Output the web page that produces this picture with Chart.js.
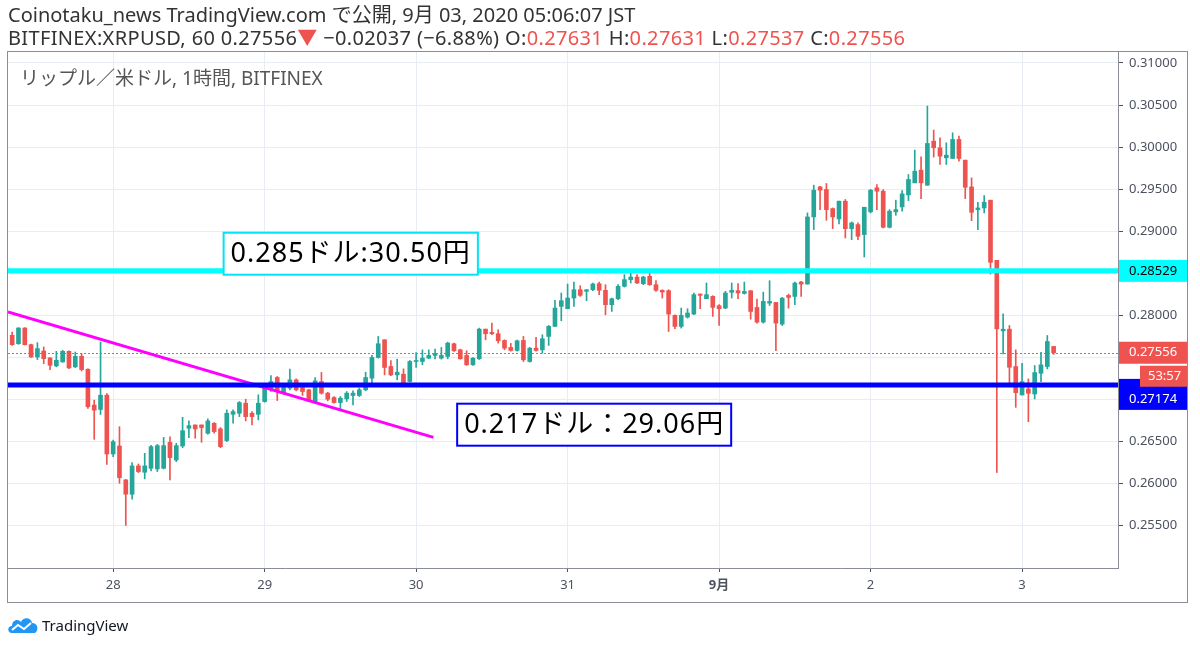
<!DOCTYPE html>
<html>
<head>
<meta charset="utf-8">
<script src="https://cdn.jsdelivr.net/npm/chart.js@4.4.1/dist/chart.umd.min.js"></script>
<style>
  html, body { margin: 0; padding: 0; background: #fff; }
  body { width: 1200px; height: 647px; position: relative; overflow: hidden;
         font-family: "Noto Sans", "Noto Sans CJK JP", sans-serif; color: #333; }
  #wrap { position: absolute; left: 0; top: 0; width: 1200px; height: 647px; }
  .hdr { position: absolute; left: 8px; font-size: 20px; white-space: nowrap; line-height: 23px; }
  .red { color: #ef5350; }
  #sym { position: absolute; left: 20px; top: 63px; font-size: 19px; color: #555; white-space: nowrap; }
  #logo { position: absolute; left: 7px; top: 614px; height: 22px; display: flex; align-items: center; }
  #logo span { font-size: 15px; color: #131722; margin-left: 3px; }
</style>
</head>
<body>
<div id="wrap"><canvas id="myChart" width="1200" height="647"></canvas></div>
<div class="hdr" style="top:3px">Coinotaku_news TradingView.com で公開, 9月 03, 2020 05:06:07 JST</div>
<div class="hdr" style="top:26px; letter-spacing:0.35px">BITFINEX:XRPUSD, 60 0.27556<span class="red">▼</span> −0.02037 (−6.88%) O:<span class="red">0.27631</span> H:<span class="red">0.27631</span> L:<span class="red">0.27537</span> C:<span class="red">0.27556</span></div>
<div id="sym">リップル／米ドル, 1時間, BITFINEX</div>
<div id="logo">
  <svg width="32" height="18" viewBox="0 0 32 18">
    <path d="M5 17 C0 17 0 10 5 10 C5 4 11 2 14 6 C16 1 24 1 25 7 C31 7 32 14 28 17 Z" fill="#2196f3"/>
    <path d="M5 14 L11 9 L17 13 L24 7" stroke="#fff" stroke-width="2" fill="none"/>
  </svg>
  <span>TradingView</span>
</div>
<script>
// XRPUSD 1h candles, first bar = Aug 27 08:00 JST
const opens = [
  0.27763,0.27664,0.27850,0.27652,0.27506,0.27577,0.27494,0.27400,0.27447,0.27573,
  0.27388,0.27514,0.27360,0.26934,0.26882,0.27052,0.26353,0.26448,0.26045,0.25875,
  0.26211,0.26136,0.26183,0.26175,0.26183,0.26491,0.26281,0.26448,0.26659,0.26698,
  0.26698,0.26599,0.26718,0.26651,0.26512,0.26825,0.26837,0.26956,0.26837,0.26825,
  0.26976,0.27115,0.27262,0.27076,0.27135,0.27234,0.27143,0.27115,0.26976,0.27214,
  0.27076,0.27024,0.26964,0.27008,0.27048,0.27048,0.27115,0.27254,0.27500,0.27710,
  0.27393,0.27293,0.27301,0.27214,0.27452,0.27452,0.27492,0.27524,0.27492,0.27512,
  0.27663,0.27591,0.27524,0.27413,0.27484,0.27837,0.27798,0.27782,0.27702,0.27619,
  0.27583,0.27702,0.27452,0.27611,0.27591,0.27750,0.27869,0.28107,0.28079,0.28206,
  0.28305,0.28286,0.28305,0.28377,0.28298,0.28127,0.28198,0.28345,0.28425,0.28456,
  0.28377,0.28464,0.28365,0.28298,0.28294,0.28000,0.27869,0.27980,0.28016,0.28254,
  0.28198,0.28226,0.28115,0.28087,0.28274,0.28294,0.28261,0.28293,0.28094,0.27920,
  0.28146,0.28154,0.27896,0.28237,0.28225,0.28396,0.28372,0.29170,0.29527,0.29496,
  0.29269,0.29146,0.29357,0.29031,0.29079,0.28960,0.29230,0.29516,0.29476,0.29047,
  0.29230,0.29289,0.29432,0.29575,0.29726,0.29547,0.30071,0.29992,0.29873,0.29865,
  0.30091,0.29845,0.29527,0.29257,0.29277,0.29369,0.28654,0.27816,0.27836,0.27392,
  0.27054,0.27126,0.27066,0.27312,0.27392,0.27631
];
const highs = [
  0.27803,0.27854,0.27854,0.27660,0.27676,0.27625,0.27500,0.27573,0.27585,0.27580,
  0.27565,0.27546,0.27365,0.26993,0.27684,0.27070,0.26519,0.26677,0.26050,0.26250,
  0.26234,0.26361,0.26456,0.26467,0.26550,0.26558,0.26480,0.26789,0.26746,0.26698,
  0.26698,0.26770,0.26726,0.26667,0.26877,0.26877,0.26976,0.27004,0.26857,0.27056,
  0.27175,0.27286,0.27274,0.27175,0.27361,0.27246,0.27155,0.27123,0.27262,0.27322,
  0.27087,0.27036,0.27036,0.27095,0.27103,0.27135,0.27325,0.27524,0.27750,0.27710,
  0.27464,0.27480,0.27365,0.27464,0.27559,0.27590,0.27590,0.27599,0.27619,0.27682,
  0.27671,0.27599,0.27580,0.27500,0.27849,0.27837,0.27910,0.27829,0.27710,0.27667,
  0.27706,0.27750,0.27619,0.27738,0.27770,0.27881,0.28179,0.28266,0.28373,0.28397,
  0.28353,0.28305,0.28385,0.28397,0.28365,0.28206,0.28365,0.28484,0.28504,0.28484,
  0.28464,0.28516,0.28413,0.28305,0.28305,0.28008,0.28087,0.28079,0.28266,0.28254,
  0.28385,0.28234,0.28127,0.28286,0.28385,0.28377,0.28396,0.28293,0.28194,0.28277,
  0.28412,0.28154,0.28213,0.28253,0.28396,0.28404,0.29218,0.29547,0.29535,0.29567,
  0.29277,0.29357,0.29377,0.29111,0.29099,0.29285,0.29496,0.29555,0.29496,0.29257,
  0.29369,0.29483,0.29674,0.29964,0.29885,0.30488,0.30202,0.30111,0.30051,0.30170,
  0.30131,0.29845,0.29634,0.29345,0.29424,0.29369,0.28654,0.28019,0.27880,0.27590,
  0.27431,0.27245,0.27404,0.27562,0.27761,0.27631
];
const lows = [
  0.27644,0.27656,0.27648,0.27500,0.27475,0.27427,0.27356,0.27388,0.27443,0.27368,
  0.27380,0.27340,0.26894,0.26527,0.26823,0.26230,0.26321,0.26005,0.25504,0.25816,
  0.26132,0.26057,0.26152,0.26144,0.26175,0.26045,0.26262,0.26428,0.26547,0.26540,
  0.26492,0.26587,0.26599,0.26428,0.26500,0.26718,0.26797,0.26746,0.26698,0.26758,
  0.26968,0.27095,0.26988,0.27064,0.27115,0.27103,0.27048,0.26976,0.26964,0.27064,
  0.26984,0.26956,0.26889,0.26976,0.26936,0.27036,0.27103,0.27194,0.27492,0.27293,
  0.27285,0.27234,0.27182,0.27206,0.27381,0.27413,0.27484,0.27484,0.27480,0.27484,
  0.27571,0.27480,0.27405,0.27405,0.27476,0.27710,0.27770,0.27670,0.27591,0.27575,
  0.27575,0.27452,0.27444,0.27575,0.27551,0.27643,0.27869,0.27936,0.28079,0.28107,
  0.28226,0.28174,0.28294,0.28246,0.28008,0.28047,0.28186,0.28337,0.28385,0.28377,
  0.28365,0.28357,0.28286,0.28206,0.27809,0.27841,0.27849,0.27968,0.28008,0.28079,
  0.28198,0.27988,0.27881,0.28079,0.28206,0.28198,0.28253,0.27955,0.27908,0.27908,
  0.28118,0.27582,0.27880,0.28086,0.28126,0.28225,0.28372,0.29019,0.29257,0.29130,
  0.29031,0.29087,0.28920,0.28900,0.28900,0.28694,0.29218,0.29257,0.29039,0.29039,
  0.29190,0.29237,0.29364,0.29575,0.29388,0.29547,0.29881,0.29793,0.29793,0.29865,
  0.29833,0.29388,0.29126,0.29019,0.29218,0.28491,0.26133,0.27543,0.27185,0.26907,
  0.27054,0.26737,0.27007,0.27213,0.27364,0.27537
];
const closes = [
  0.27652,0.27850,0.27652,0.27506,0.27605,0.27486,0.27407,0.27467,0.27573,0.27376,
  0.27514,0.27356,0.26914,0.26874,0.27052,0.26353,0.26499,0.26072,0.25875,0.26211,
  0.26144,0.26211,0.26440,0.26452,0.26452,0.26309,0.26452,0.26630,0.26690,0.26651,
  0.26667,0.26746,0.26619,0.26440,0.26837,0.26857,0.26964,0.26797,0.26797,0.26956,
  0.27155,0.27214,0.27095,0.27155,0.27234,0.27115,0.27095,0.26984,0.27222,0.27076,
  0.27004,0.26964,0.27016,0.27076,0.27076,0.27115,0.27262,0.27500,0.27663,0.27381,
  0.27293,0.27325,0.27194,0.27452,0.27464,0.27492,0.27524,0.27543,0.27524,0.27671,
  0.27579,0.27484,0.27413,0.27492,0.27837,0.27782,0.27782,0.27698,0.27611,0.27583,
  0.27698,0.27472,0.27611,0.27583,0.27722,0.27869,0.28087,0.28174,0.28206,0.28305,
  0.28238,0.28305,0.28373,0.28298,0.28127,0.28198,0.28345,0.28425,0.28456,0.28385,
  0.28456,0.28365,0.28298,0.28278,0.28016,0.27869,0.28000,0.28028,0.28246,0.28238,
  0.28246,0.28095,0.28079,0.28266,0.28298,0.28266,0.28285,0.28047,0.27920,0.28166,
  0.28166,0.27908,0.28205,0.28213,0.28384,0.28372,0.29170,0.29488,0.29488,0.29257,
  0.29170,0.29357,0.29031,0.29099,0.28940,0.29285,0.29488,0.29476,0.29047,0.29238,
  0.29257,0.29444,0.29615,0.29714,0.29575,0.30043,0.29992,0.29892,0.29904,0.30091,
  0.29865,0.29523,0.29225,0.29277,0.29345,0.28630,0.27840,0.27836,0.27384,0.27082,
  0.27213,0.27074,0.27320,0.27412,0.27690,0.27556
];

// first bar is 08:00, so day boundaries fall every 24 bars after index 16
const firstHour = 8;
const dayLabels = ['28', '29', '30', '31', '9月', '2', '3'];
const yTicks = [0.255, 0.26, 0.265, 0.27, 0.275, 0.28, 0.285, 0.29, 0.295, 0.30, 0.305, 0.31];

// drawn levels and trend line (price values)
const cyanLevel = 0.28529;
const blueLevel = 0.27174;
const lastPrice = 0.27556;
const trendX = [-0.66, 66.75];
const trendY = [0.28040, 0.26550];

const UP = '#26a69a';
const DOWN = '#ef5350';

const dayTicks = dayLabels.map((d, i) => (24 - firstHour) + i * 24);
const barColors = opens.map((o, i) => closes[i] >= o ? UP : DOWN);
const bodies = opens.map((o, i) => ({ x: i, y: [o, closes[i]] }));
const wicks = lows.map((l, i) => ({ x: i, y: [l, highs[i]] }));
const trend = trendX.map((x, i) => ({ x: x, y: trendY[i] }));

const FONT = '"Noto Sans", "Noto Sans CJK JP", sans-serif';

function hline(ctx, area, y, color, width, dash) {
  ctx.save();
  ctx.beginPath();
  ctx.strokeStyle = color;
  ctx.lineWidth = width;
  if (dash) ctx.setLineDash(dash);
  ctx.moveTo(area.left, y);
  ctx.lineTo(area.right, y);
  ctx.stroke();
  ctx.restore();
}

const overlay = {
  id: 'overlay',
  beforeDatasetsDraw(chart) {
    const {ctx, chartArea, scales} = chart;
    hline(ctx, chartArea, Math.round(scales.y.getPixelForValue(lastPrice)) + 0.5, '#f05a57', 1, [2, 2]);
  },
  afterDatasetsDraw(chart) {
    const {ctx, chartArea, scales} = chart;
    const x = scales.x, y = scales.y;
    hline(ctx, chartArea, y.getPixelForValue(cyanLevel), '#00ffff', 5);
    hline(ctx, chartArea, y.getPixelForValue(blueLevel), '#0000ff', 5);

    // text notes on the chart
    const notes = [
      { text: '0.285ドル:30.50円', at: 33.5, val: 0.28733, color: '#00e5f5' },
      { text: '0.217ドル：29.06円', at: 70.5, val: 0.26701, color: '#0000ff' }
    ];
    ctx.save();
    ctx.font = '27px ' + FONT;
    ctx.letterSpacing = '1px';
    ctx.textBaseline = 'middle';
    notes.forEach(n => {
      const left = x.getPixelForValue(n.at);
      const cy = y.getPixelForValue(n.val);
      const w = ctx.measureText(n.text).width + 14;
      ctx.fillStyle = '#fff';
      ctx.fillRect(left, cy - 21, w, 42);
      ctx.strokeStyle = n.color;
      ctx.lineWidth = 2;
      ctx.strokeRect(left, cy - 21, w, 42);
      ctx.fillStyle = '#000';
      ctx.fillText(n.text, left + 7, cy + 1);
    });
    ctx.restore();
  },
  afterDraw(chart) {
    const {ctx, chartArea, scales} = chart;
    const y = scales.y, x = scales.x;
    // frame
    ctx.save();
    ctx.strokeStyle = '#8a8d95';
    ctx.lineWidth = 1;
    ctx.strokeRect(chartArea.left - 0.5, chartArea.top - 0.5, y.right - chartArea.left, x.bottom - chartArea.top);
    ctx.restore();

    // price tags on the right axis
    const tagL = chartArea.right + 1, tagW = y.right - chartArea.right - 2;
    ctx.save();
    ctx.font = '13px ' + FONT;
    ctx.textBaseline = 'middle';
    const cyC = y.getPixelForValue(cyanLevel);
    ctx.fillStyle = '#00ffff';
    ctx.fillRect(tagL, cyC - 11, tagW, 22);
    ctx.fillStyle = '#000';
    ctx.fillText(cyanLevel.toFixed(5), chartArea.right + 11, cyC);

    const bC = y.getPixelForValue(blueLevel);
    ctx.fillStyle = '#0000ff';
    ctx.fillRect(tagL, bC - 6, tagW, 31);
    ctx.fillStyle = '#fff';
    ctx.fillText(blueLevel.toFixed(5), chartArea.right + 11, bC + 14);

    const rC = y.getPixelForValue(lastPrice);
    ctx.fillStyle = DOWN;
    ctx.fillRect(tagL, rC - 11, tagW, 22);
    ctx.fillRect(tagL + 21, rC + 13, tagW - 21, 21);
    ctx.fillStyle = '#fff';
    ctx.fillText(lastPrice.toFixed(5), chartArea.right + 11, rC);
    ctx.fillText('53:57', chartArea.right + 30, rC + 24);
    ctx.restore();
  }
};

const config = {
  data: {
    datasets: [
      {
        type: 'bar', data: wicks, backgroundColor: barColors,
        barThickness: 1, grouped: false, order: 3
      },
      {
        type: 'bar', data: bodies, backgroundColor: barColors,
        barThickness: 4, minBarLength: 1, grouped: false, order: 2
      },
      {
        type: 'line', data: trend, borderColor: '#ff00ff', borderWidth: 3,
        pointRadius: 0, order: 1
      }
    ]
  },
  options: {
    responsive: false,
    animation: false,
    layout: { padding: { left: 8, top: 52, right: 12, bottom: 44 } },
    plugins: { legend: { display: false }, tooltip: { enabled: false } },
    scales: {
      x: {
        type: 'linear', offset: false, min: -0.66, max: 175.2,
        afterBuildTicks: s => { s.ticks = dayTicks.map(v => ({ value: v })); },
        afterFit: s => { s.height = 35; },
        grid: { offset: false, color: '#e7edf3', tickLength: 4, tickColor: '#50535e' },
        border: { color: '#8a8d95' },
        ticks: {
          padding: 5, color: '#4c525e', maxRotation: 0,
          font: c => ({ family: FONT, size: 13, weight: c.index === 4 ? 'bold' : 'normal' }),
          callback: (v, i) => dayLabels[i]
        }
      },
      y: {
        position: 'right', min: 0.24998, max: 0.3113,
        afterBuildTicks: s => { s.ticks = yTicks.map(v => ({ value: v })); },
        afterFit: s => { s.width = 70; },
        grid: { color: '#e7edf3', tickLength: 5, tickColor: '#50535e' },
        border: { color: '#8a8d95' },
        ticks: {
          padding: 6, color: '#4c525e', font: { family: FONT, size: 13 },
          callback: v => v.toFixed(5)
        }
      }
    }
  },
  plugins: [overlay]
};

const myChart = new Chart(document.getElementById('myChart'), config);
</script>
</body>
</html>
